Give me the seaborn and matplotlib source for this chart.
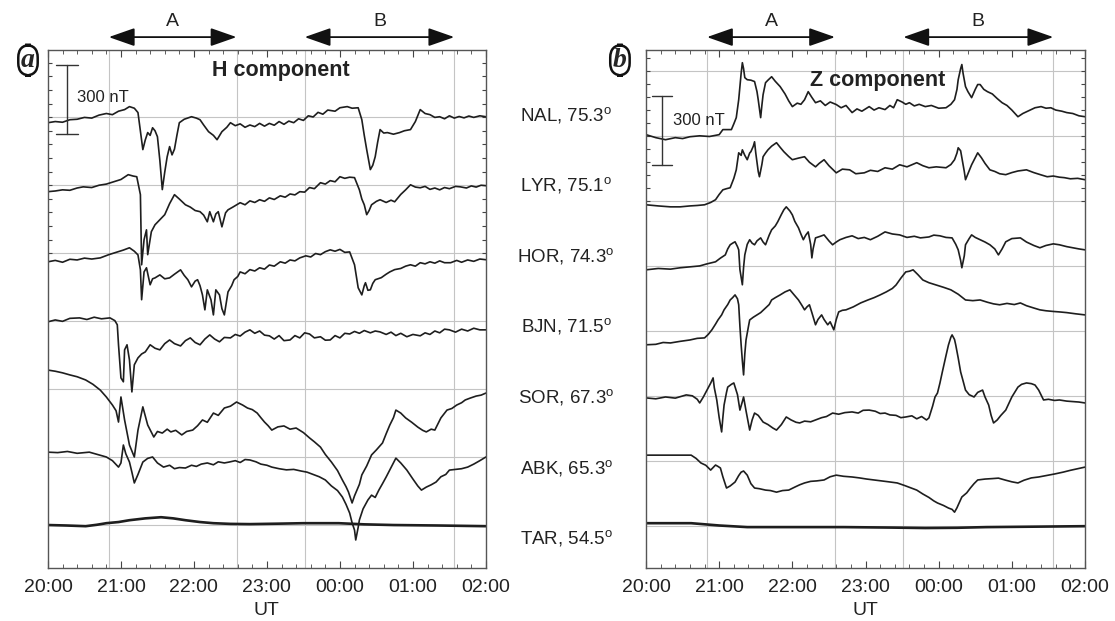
import pandas as pd
import matplotlib.pyplot as plt
import seaborn as sns

# =========================
# DATA
# each trace: (minutes after 20:00 UT, deviation in nT from the station level)
# =========================

stations = ["NAL", "LYR", "HOR", "BJN", "SOR", "ABK", "TAR"]
latitudes = [75.3, 75.1, 74.3, 71.5, 67.3, 65.3, 54.5]

hour_ticks = [0, 60, 120, 180, 240, 300, 360]
hour_labels = ["20:00", "21:00", "22:00", "23:00", "00:00", "01:00", "02:00"]

# intervals A and B (minutes after 20:00)
interval_names = ["A", "B"]
interval_start = [50, 211]
interval_end = [155, 334]

# ---- H component ----
h_nal = [(0, -35), (6, -30), (12, -33), (18, -22), (24, -20), (30, -12), (36, -15), (42, -2), (48, 5), (53, 0),
         (58, 15), (63, 22), (67, 35), (71, 28), (74, 9), (78, -152), (80, -110), (82, -78), (84, -90), (86, -57),
         (88, -70), (90, -96), (92, -200), (94, -326), (96, -250), (98, -183), (100, -139), (102, -175), (104, -150),
         (106, -90), (108, -35), (112, -20), (118, -9), (122, -15), (125, -22), (128, -45), (132, -74), (136, -90),
         (139, -109), (143, -74), (147, -55), (150, -35), (154, -48), (158, -40), (162, -55), (166, -45), (170, -52),
         (174, -38), (178, -50), (182, -38), (186, -46), (190, -30), (194, -42), (198, -28), (202, -35), (206, -18),
         (210, -25), (214, -5), (218, -10), (222, 10), (226, 2), (230, 20), (236, 15), (240, 30), (246, 35), (250, 28),
         (255, 30), (258, -22), (260, -90), (262, -152), (265, -239), (267, -220), (269, -183), (271, -120), (273, -65),
         (276, -80), (279, -78), (284, -85), (289, -78), (293, -70), (298, -65), (302, -30), (306, 22), (310, 5),
         (314, 0), (318, -12), (322, -9), (326, -18), (330, -5), (334, -15), (338, -8), (342, -14), (346, -6),
         (350, -12), (355, -5), (360, -9)]

h_lyr = [(0, -28), (6, -25), (12, -20), (18, -22), (24, -12), (29, -7), (36, -10), (42, 0), (48, 5), (54, 15),
         (60, 25), (66, 46), (70, 40), (73, 37), (76, -41), (77, -346), (79, -237), (81, -194), (82, -302), (85, -202),
         (88, -172), (92, -150), (96, -128), (100, -80), (104, -41), (108, -60), (113, -85), (117, -95), (121, -110),
         (125, -115), (128, -130), (131, -159), (133, -115), (136, -159), (138, -125), (140, -115), (143, -181),
         (146, -120), (148, -107), (152, -95), (158, -76), (162, -85), (166, -68), (170, -75), (174, -63), (178, -70),
         (182, -55), (186, -62), (191, -46), (195, -52), (199, -38), (203, -42), (207, -28), (211, -30), (215, -10),
         (219, -15), (224, 11), (228, 5), (232, 20), (236, 15), (240, 37), (244, 30), (248, 35), (252, 33), (256, -20),
         (258, -60), (260, -85), (262, -128), (264, -110), (266, -85), (270, -70), (273, -63), (278, -75), (282, -65),
         (285, -72), (290, -40), (294, -20), (298, 2), (302, -8), (306, -11), (310, -5), (314, -18), (318, -12),
         (322, -20), (326, -10), (330, -15), (335, -5), (339, -7), (344, -12), (348, -3), (352, -8), (356, 0), (360, -2)]

h_hor = [(0, -26), (6, -20), (12, -28), (18, -15), (24, -18), (30, -10), (36, -14), (43, -9), (50, 5), (56, 15),
         (62, 25), (67, 35), (71, 20), (74, 4), (76, -61), (77, -191), (79, -70), (81, -52), (84, -126), (86, -100),
         (88, -96), (92, -83), (96, -100), (100, -96), (104, -80), (109, -61), (112, -85), (115, -104), (118, -135),
         (121, -110), (123, -104), (125, -130), (127, -170), (129, -235), (131, -148), (134, -191), (136, -257),
         (138, -148), (141, -170), (143, -230), (145, -257), (148, -157), (151, -130), (153, -104), (156, -90),
         (158, -70), (162, -78), (166, -60), (170, -66), (174, -52), (178, -58), (182, -40), (186, -45), (191, -26),
         (195, -32), (199, -18), (203, -22), (207, -9), (212, 0), (216, -5), (220, 10), (224, 5), (228, 18), (232, 26),
         (236, 20), (240, 28), (244, 15), (248, 17), (252, -39), (255, -139), (258, -170), (260, -130), (261, -117),
         (263, -150), (265, -148), (267, -120), (269, -104), (274, -95), (278, -80), (281, -70), (285, -60), (290, -55),
         (294, -45), (298, -39), (302, -45), (306, -30), (310, -35), (314, -26), (318, -32), (322, -22), (326, -30),
         (331, -30), (336, -20), (340, -28), (345, -18), (350, -24), (355, -14), (360, -17)]

h_bjn = [(0, 20), (6, 28), (12, 22), (18, 35), (26, 37), (32, 30), (38, 40), (44, 33), (51, 37), (55, 25), (57, 7),
         (58, -80), (60, -224), (62, -241), (63, -102), (65, -80), (67, -146), (69, -285), (71, -167), (74, -137),
         (77, -120), (80, -111), (84, -80), (88, -95), (92, -102), (96, -75), (100, -59), (104, -75), (109, -85),
         (113, -62), (117, -50), (121, -70), (125, -80), (129, -55), (133, -37), (137, -55), (141, -67), (145, -48),
         (150, -50), (154, -35), (158, -42), (162, -25), (166, -15), (170, -30), (174, -20), (178, -38), (182, -41),
         (186, -55), (190, -40), (194, -62), (199, -59), (203, -40), (207, -50), (211, -28), (215, -33), (219, -50),
         (224, -45), (228, -60), (232, -59), (236, -40), (240, -50), (244, -30), (248, -33), (252, -22), (256, -30),
         (260, -18), (265, -28), (269, -20), (273, -24), (278, -35), (282, -25), (286, -40), (290, -30), (295, -45),
         (300, -35), (306, -41), (310, -28), (314, -35), (318, -20), (322, -28), (326, -12), (330, -15), (335, -25),
         (340, -12), (345, -20), (350, -8), (355, -15), (360, -15)]

h_sor = [(0, 117), (6, 112), (12, 105), (18, 96), (24, 88), (31, 74), (37, 55), (43, 30), (48, 0), (53, -35),
         (56, -60), (58, -109), (60, 0), (63, -100), (67, -209), (71, -261), (74, -144), (78, -43), (82, -122),
         (87, -174), (90, -150), (94, -157), (98, -140), (101, -152), (105, -145), (110, -165), (114, -150), (119, -144),
         (123, -125), (127, -100), (131, -110), (136, -70), (140, -80), (145, -48), (150, -40), (155, -22), (160, -35),
         (164, -48), (168, -55), (172, -70), (175, -90), (178, -109), (181, -125), (184, -144), (189, -130), (194, -126),
         (199, -140), (204, -135), (210, -155), (215, -178), (219, -195), (224, -218), (228, -250), (233, -283),
         (238, -320), (242, -361), (245, -390), (247, -413), (250, -461), (252, -430), (254, -405), (256, -380),
         (258, -339), (262, -300), (266, -252), (270, -230), (275, -200), (278, -160), (281, -122), (284, -90),
         (286, -57), (290, -70), (294, -91), (299, -110), (304, -131), (308, -145), (311, -152), (315, -140),
         (318, -144), (323, -91), (328, -57), (332, -50), (336, -35), (340, -25), (343, -13), (347, -5), (352, 4),
         (356, 8), (360, 17)]

h_abk = [(0, 67), (8, 65), (16, 70), (24, 62), (34, 67), (42, 55), (48, 46), (53, 30), (58, 2), (60, 20), (62, 98),
         (64, 60), (67, 24), (69, -20), (71, -67), (74, -30), (78, 24), (82, 40), (86, 46), (90, 20), (95, 2), (100, 10),
         (104, -5), (108, 0), (113, -2), (118, 10), (122, 5), (126, 15), (131, 20), (136, 12), (140, 25), (145, 20),
         (149, 24), (154, 30), (158, 22), (162, 35), (166, 33), (171, 25), (175, 15), (180, 10), (184, 2), (190, -5),
         (196, -10), (202, -8), (208, -15), (213, -20), (218, -30), (223, -40), (228, -54), (233, -80), (238, -100),
         (242, -128), (245, -160), (248, -198), (250, -240), (252, -272), (253, -315), (255, -260), (256, -228),
         (259, -180), (263, -141), (266, -120), (269, -130), (272, -98), (275, -70), (278, -41), (282, 0), (286, 41),
         (290, 20), (295, -11), (300, -50), (304, -80), (307, -98), (311, -85), (315, -75), (319, -63), (323, -40),
         (327, -30), (330, -11), (335, -8), (340, -5), (345, 2), (350, 15), (355, 30), (360, 46)]

h_tar = [(0, 57), (15, 55), (31, 52), (40, 58), (48, 65), (58, 70), (67, 78), (80, 86), (93, 91), (103, 86),
         (113, 78), (125, 70), (136, 65), (150, 62), (166, 61), (190, 63), (210, 65), (225, 65), (239, 65), (260, 60),
         (284, 57), (320, 55), (360, 52)]

# ---- Z component ----
z_nal = [(0, -87), (8, -100), (16, -109), (24, -100), (30, -104), (36, -96), (44, -92), (52, -95), (60, -87),
         (63, -65), (70, -65), (72, -40), (74, -13), (76, 65), (78, 180), (79, 226), (80, 200), (81, 161), (83, 152),
         (86, 150), (89, 144), (91, 100), (92, 65), (94, -13), (95, 40), (96, 87), (98, 139), (100, 150), (103, 165),
         (106, 145), (110, 122), (114, 90), (117, 60), (120, 35), (124, 50), (127, 45), (130, 65), (133, 100),
         (136, 75), (139, 52), (143, 60), (147, 40), (151, 55), (156, 44), (160, 30), (164, 40), (169, 9), (173, 25),
         (177, 15), (183, 35), (187, 20), (191, 30), (196, 22), (200, 40), (203, 30), (206, 65), (210, 55), (213, 45),
         (216, 52), (220, 38), (224, 45), (229, 35), (234, 40), (240, 28), (246, 30), (250, 45), (253, 65), (255, 110),
         (256, 152), (258, 200), (259, 218), (260, 180), (262, 122), (264, 100), (267, 74), (270, 110), (272, 131),
         (274, 131), (277, 110), (280, 100), (284, 90), (288, 70), (292, 52), (296, 40), (300, 20), (305, -9), (309, 5),
         (313, 15), (319, 30), (324, 35), (328, 28), (332, 30), (336, 20), (341, 15), (345, 9), (350, 5), (355, -5),
         (360, -9)]

z_lyr = [(0, -85), (10, -90), (20, -94), (28, -94), (36, -90), (42, -88), (48, -85), (53, -75), (57, -63), (60, -40),
         (63, -20), (66, -15), (69, -11), (72, 30), (74, 67), (76, 141), (78, 130), (79, 154), (81, 130), (83, 111),
         (85, 140), (86, 146), (88, 170), (89, 189), (90, 140), (92, 60), (93, 37), (95, 90), (96, 124), (98, 140),
         (100, 154), (103, 170), (107, 185), (110, 165), (113, 146), (117, 125), (120, 111), (125, 118), (130, 124),
         (134, 100), (139, 80), (142, 95), (146, 111), (150, 85), (156, 54), (161, 70), (167, 67), (172, 50), (179, 54),
         (184, 65), (190, 60), (196, 76), (202, 70), (208, 89), (214, 80), (222, 98), (227, 85), (232, 76), (238, 80),
         (246, 76), (250, 90), (253, 111), (255, 140), (256, 163), (258, 150), (259, 120), (261, 60), (262, 24),
         (264, 50), (267, 89), (270, 120), (272, 141), (275, 120), (278, 95), (282, 67), (286, 60), (290, 50), (295, 46),
         (300, 55), (305, 62), (312, 67), (318, 55), (324, 45), (329, 37), (334, 40), (339, 35), (343, 33), (348, 28),
         (354, 30), (360, 24)]

z_hor = [(0, -61), (10, -55), (20, -58), (28, -52), (36, -48), (44, -44), (50, -35), (57, -26), (61, -10), (65, 4),
         (67, 30), (69, 48), (71, 55), (73, 61), (75, 40), (76, 26), (77, -60), (79, -126), (80, -50), (81, 4), (83, 50),
         (85, 70), (87, 55), (89, 48), (91, 65), (94, 78), (96, 60), (98, 48), (101, 90), (103, 113), (106, 130),
         (108, 148), (111, 180), (113, 200), (115, 213), (118, 195), (120, 178), (122, 150), (125, 122), (127, 95),
         (129, 70), (131, 90), (133, 104), (135, 50), (136, -9), (137, 30), (139, 78), (143, 85), (146, 91), (150, 65),
         (153, 48), (156, 60), (159, 70), (164, 80), (169, 87), (174, 75), (179, 80), (184, 70), (190, 85), (196, 104),
         (202, 95), (208, 91), (214, 80), (220, 85), (225, 78), (232, 82), (236, 90), (241, 87), (246, 80), (251, 78),
         (254, 50), (256, 26), (258, -20), (259, -52), (261, 0), (262, 48), (265, 75), (267, 91), (270, 80), (274, 70),
         (278, 60), (282, 48), (286, 30), (289, 4), (292, 30), (295, 61), (300, 75), (307, 78), (312, 60), (318, 45),
         (323, 35), (328, 45), (334, 52), (339, 48), (345, 40), (350, 35), (355, 30), (360, 26)]

z_bjn = [(0, -80), (8, -78), (14, -70), (20, -72), (28, -65), (36, -59), (42, -52), (48, -50), (51, -35), (54, -15),
         (57, 10), (59, 28), (62, 50), (64, 72), (67, 95), (69, 115), (71, 125), (73, 137), (75, 120), (76, 94),
         (77, 0), (78, -80), (79, -150), (80, -211), (81, -120), (82, -59), (84, 0), (85, 28), (88, 40), (91, 50),
         (94, 60), (98, 80), (101, 95), (103, 115), (106, 125), (110, 137), (114, 150), (118, 159), (121, 140),
         (125, 115), (128, 90), (130, 72), (132, 85), (134, 94), (136, 60), (139, 7), (141, 30), (144, 50), (146, 30),
         (149, 7), (151, 20), (154, -15), (156, 30), (158, 63), (161, 70), (164, 72), (170, 85), (176, 102), (182, 115),
         (187, 125), (192, 137), (197, 150), (202, 165), (205, 180), (209, 210), (213, 237), (216, 240), (219, 246),
         (223, 225), (227, 202), (232, 190), (238, 180), (244, 170), (250, 159), (256, 140), (262, 115), (268, 112),
         (274, 115), (280, 105), (285, 98), (290, 94), (296, 100), (302, 95), (307, 102), (312, 90), (318, 80),
         (323, 72), (328, 68), (334, 65), (339, 63), (345, 60), (352, 55), (360, 50)]

z_sor = [(0, -4), (8, -8), (16, 0), (24, -5), (33, 9), (38, 5), (42, -10), (44, -26), (47, 0), (50, 30), (53, 60),
         (55, 83), (56, 40), (58, -13), (60, -90), (62, -152), (63, -90), (64, -35), (66, 20), (67, 43), (70, 55),
         (72, 61), (75, 10), (77, -57), (79, -20), (80, 0), (82, -60), (85, -144), (87, -100), (89, -70), (92, -80),
         (96, -109), (100, -120), (104, -135), (107, -144), (111, -120), (115, -87), (119, -100), (123, -110),
         (126, -113), (130, -105), (135, -108), (139, -100), (144, -90), (148, -85), (153, -70), (158, -75), (163, -68),
         (169, -65), (174, -70), (178, -58), (183, -57), (188, -62), (192, -72), (196, -70), (200, -78), (205, -80),
         (209, -90), (213, -87), (218, -82), (222, -95), (226, -85), (230, -100), (232, -91), (235, -40), (237, 0),
         (239, 17), (241, 60), (243, 109), (246, 180), (248, 226), (250, 260), (251, 270), (253, 250), (254, 226),
         (256, 170), (258, 109), (260, 70), (262, 30), (265, 10), (269, 0), (272, 20), (276, 30), (278, 0), (281, -35),
         (283, -80), (285, -113), (288, -100), (291, -80), (295, -57), (300, 0), (305, 43), (308, 55), (312, 61),
         (316, 58), (319, 52), (322, 30), (326, -13), (330, -10), (335, -15), (339, -13), (345, -18), (350, -20),
         (355, -22), (360, -26)]

z_abk = [(0, 54), (10, 54), (20, 54), (30, 54), (37, 54), (41, 40), (45, 20), (49, 10), (53, -11), (55, 0), (57, 11),
         (59, 5), (61, -2), (63, -40), (66, -89), (69, -80), (73, -63), (76, -35), (78, -20), (80, -15), (83, -33),
         (86, -70), (89, -89), (93, -92), (98, -98), (102, -100), (107, -107), (112, -100), (117, -98), (122, -85),
         (126, -75), (130, -67), (135, -60), (140, -58), (146, -54), (151, -40), (156, -33), (162, -38), (169, -41),
         (175, -45), (181, -50), (187, -54), (193, -58), (199, -62), (206, -67), (212, -78), (217, -88), (222, -98),
         (227, -115), (232, -130), (236, -145), (239, -154), (244, -165), (248, -176), (251, -182), (253, -194),
         (255, -175), (256, -163), (259, -128), (263, -110), (266, -89), (269, -70), (272, -54), (278, -50), (284, -48),
         (289, -46), (295, -55), (300, -62), (305, -67), (310, -55), (316, -45), (322, -41), (328, -35), (335, -28),
         (342, -20), (348, -12), (354, -5), (360, 2)]

z_tar = [(0, 65), (20, 65), (37, 65), (60, 55), (83, 48), (120, 48), (162, 48), (200, 46), (229, 44), (255, 45),
         (279, 48), (320, 50), (360, 52)]

h_traces = [h_nal, h_lyr, h_hor, h_bjn, h_sor, h_abk, h_tar]
z_traces = [z_nal, z_lyr, z_hor, z_bjn, z_sor, z_abk, z_tar]

# =========================
# BUILD LONG TABLE
# =========================

STEP = 307  # nT between stacked stations

rows = []
for comp, traces in [("H", h_traces), ("Z", z_traces)]:
    for i, name in enumerate(stations):
        offset = (len(stations) - 1 - i) * STEP
        for t, v in traces[i]:
            rows.append({"comp": comp, "station": name, "minute": t, "nT": v + offset})
df = pd.DataFrame(rows)

# =========================
# FIGURE
# =========================

sns.set_style("white")
plt.rcParams["font.family"] = ["Liberation Sans", "DejaVu Sans"]
plt.rcParams["mathtext.default"] = "regular"

fig = plt.figure(figsize=(11.15, 6.21), dpi=100)
ax_h = fig.add_axes([0.0430, 0.0853, 0.3928, 0.8341])
ax_z = fig.add_axes([0.5794, 0.0853, 0.3937, 0.8341])

line_color = "#1e1e1e"
grid_color = "#c4c4c4"
YMIN, YMAX = -130, 2123

# horizontal grid: first line and spacing (nT) for each panel
grid_setup = {"H": (1831, 295.8, 7), "Z": (2031, 282.8, 8)}

for ax, comp in [(ax_h, "H"), (ax_z, "Z")]:
    sub = df[df["comp"] == comp]
    for name in stations:
        s = sub[sub["station"] == name]
        sns.lineplot(data=s, x="minute", y="nT", ax=ax, color=line_color,
                     lw=1.9 if name == "TAR" else 1.2, estimator=None, sort=False)

    ax.set_xlim(0, 360)
    ax.set_ylim(YMIN, YMAX)

    # vertical grid at interval edges
    for t in interval_start + interval_end:
        ax.axvline(t, color=grid_color, lw=0.8, zorder=0)
    first, gap, n = grid_setup[comp]
    grid_y = [first - k * gap for k in range(n)]
    for y in grid_y:
        ax.axhline(y, color=grid_color, lw=0.8, zorder=0)

    # ticks
    ax.set_xticks(hour_ticks)
    ax.set_xticklabels(hour_labels)
    ax.set_xticks(list(range(0, 361, 12)), minor=True)
    minor_y = [first + (k - 10) * gap / 5 for k in range(60)]
    minor_y = [y for y in minor_y if YMIN < y < YMAX]
    ax.set_yticks(minor_y)
    ax.set_yticklabels([])
    ax.tick_params(axis="x", which="major", direction="in", length=5, top=True, bottom=True,
                   labelsize=14, pad=8, color="#444444", labelcolor="#222222")
    ax.tick_params(axis="x", which="minor", direction="in", length=3, top=True, bottom=True, color="#444444")
    ax.tick_params(axis="y", which="major", direction="in", length=3, left=True, right=True, color="#444444")

    ax.set_xlabel("UT", fontsize=14, labelpad=4, color="#222222")
    ax.set_ylabel("")
    for sp in ax.spines.values():
        sp.set_color("#555555")
        sp.set_linewidth(1.0)

    # interval arrows
    for name, t0, t1 in zip(interval_names, interval_start, interval_end):
        ax.annotate("", xy=(t1, 1.025), xytext=(t0, 1.025), xycoords=("data", "axes fraction"),
                    arrowprops=dict(arrowstyle="<|-|>,head_length=1.0,head_width=0.35",
                                    mutation_scale=16, lw=1.3, color="#111111",
                                    shrinkA=0, shrinkB=0),
                    annotation_clip=False)
        ax.text((t0 + t1) / 2, 1.055, name, transform=ax.get_xaxis_transform(),
                ha="center", va="center", fontsize=14, color="#222222")

# component titles
ax_h.text(191, 2036, "H component", ha="center", va="center", fontsize=15.5, fontweight="bold", color="#222222")
ax_z.text(190, 1992, "Z component", ha="center", va="center", fontsize=15.5, fontweight="bold", color="#222222")

# 300 nT scale bars
for ax, x0, top, cap, tx, ty in [(ax_h, 15.6, 2058, 9, 24, 1918), (ax_z, 13.0, 1923, 8.5, 22, 1818)]:
    ax.plot([x0, x0], [top - 300, top], color="#333333", lw=1.0)
    ax.plot([x0 - cap, x0 + cap], [top, top], color="#333333", lw=1.0)
    ax.plot([x0 - cap, x0 + cap], [top - 300, top - 300], color="#333333", lw=1.0)
    ax.text(tx, ty, "300 nT", ha="left", va="center", fontsize=12, color="#222222")

# station labels between the panels
for i, (name, lat) in enumerate(zip(stations, latitudes)):
    offset = (len(stations) - 1 - i) * STEP
    ax_h.text(426, offset, f"{name}, {lat}$^{{o}}$", ha="center", va="center",
              fontsize=13.5, color="#222222", clip_on=False)

# panel letters
for x, letter in [(0.0251, "a"), (0.556, "b")]:
    fig.text(x, 0.903, letter, ha="center", va="center", fontsize=20, fontweight="bold",
             fontstyle="italic", family="Liberation Serif",
             bbox=dict(boxstyle="round,pad=0.1,rounding_size=0.45", fc="white", ec="#111111", lw=1.8))

plt.savefig("out.png", dpi=100)
